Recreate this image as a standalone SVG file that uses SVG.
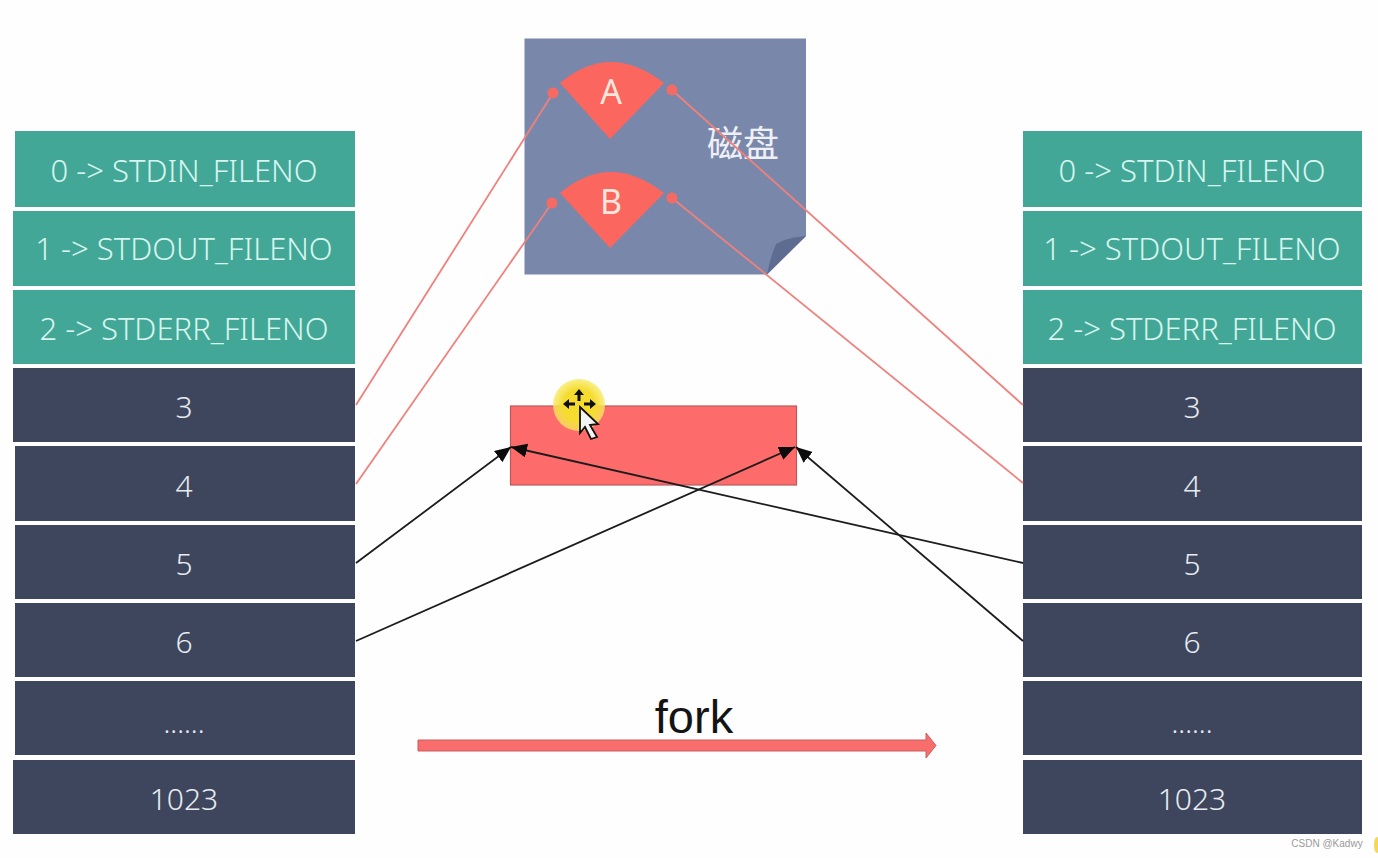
<svg xmlns="http://www.w3.org/2000/svg" width="1378" height="858" viewBox="0 0 1378 858">
<style>
text{font-family:"Noto Sans","Liberation Sans",sans-serif;text-anchor:middle}
.t{fill:#42a796}.d{fill:#3e465e}
.l{fill:#d6f5ee;font-size:31px;font-weight:300}
.n{fill:#e8ebf0;font-size:30px;font-weight:300}
.p{stroke:#f0807c;stroke-width:1.8;fill:none;marker-end:url(#dot)}
.b{stroke:#1c1c1c;stroke-width:1.8;fill:none;marker-end:url(#arr)}
.f{fill:#fb665f}
</style>
<defs>
<marker id="dot" markerUnits="userSpaceOnUse" markerWidth="16" markerHeight="16" refX="8" refY="8" orient="auto"><circle cx="8" cy="8" r="5.500" fill="#f66a64"/></marker>
<marker id="arr" markerUnits="userSpaceOnUse" markerWidth="18" markerHeight="16" refX="16" refY="7" orient="auto"><path d="M0 0L16 7L0 14Z" fill="#0c0c0c"/></marker>
<radialGradient id="glow"><stop offset="0.6" stop-color="#f5dc2e"/><stop offset="1" stop-color="#f8ea60" stop-opacity="0.75"/></radialGradient>
</defs>
<rect width="1378" height="858" fill="#fefefe"/>

<g id="disk">
<path d="M524.500 38.500H806V236L767 274.500H524.500Z" fill="#7988aa"/>
<path d="M806 236Q785 238 776 244Q770 258 767 274.500Z" fill="#5d6c90"/>
<path class="f" d="M560 83Q610 41 664 83L610 139Z"/>
<path class="f" d="M560 193Q610 151 664 193L610 248Z"/>
<text x="611" y="104" font-size="34" fill="#f6e6dc">A</text>
<text x="611" y="214" font-size="34" fill="#f6e6dc">B</text>
<text x="743" y="157" font-size="36" fill="#eef0f6" style="font-family:'Noto Sans CJK SC','Noto Sans',sans-serif;font-weight:400">磁盘</text>
</g>

<g id="left-table">
<g id="l0"><rect class="t" x="15" y="131" width="340" height="76"/><text class="l" x="184" y="182">0 -&gt; STDIN_FILENO</text></g>
<g id="l1"><rect class="t" x="13" y="211" width="342" height="75"/><text class="l" x="184" y="260">1 -&gt; STDOUT_FILENO</text></g>
<g id="l2"><rect class="t" x="13" y="290" width="342" height="74"/><text class="l" x="184" y="340">2 -&gt; STDERR_FILENO</text></g>
<g id="l3"><rect class="d" x="13" y="368" width="342" height="74"/><text class="n" x="184" y="418">3</text></g>
<g id="l4"><rect class="d" x="15" y="446" width="340" height="75"/><text class="n" x="184" y="497">4</text></g>
<g id="l5"><rect class="d" x="15" y="525" width="340" height="74"/><text class="n" x="184" y="575">5</text></g>
<g id="l6"><rect class="d" x="15" y="603" width="340" height="74"/><text class="n" x="184" y="653">6</text></g>
<g id="l7"><rect class="d" x="15" y="681" width="340" height="74"/><text class="n" x="184" y="733" style="font-size:28px">......</text></g>
<g id="l8"><rect class="d" x="13" y="760" width="342" height="74"/><text class="n" x="184" y="810">1023</text></g>
</g>

<g id="right-table">
<g id="r0"><rect class="t" x="1023" y="131" width="339" height="76"/><text class="l" x="1192" y="182">0 -&gt; STDIN_FILENO</text></g>
<g id="r1"><rect class="t" x="1023" y="211" width="339" height="75"/><text class="l" x="1192" y="260">1 -&gt; STDOUT_FILENO</text></g>
<g id="r2"><rect class="t" x="1023" y="290" width="339" height="74"/><text class="l" x="1192" y="340">2 -&gt; STDERR_FILENO</text></g>
<g id="r3"><rect class="d" x="1023" y="368" width="339" height="74"/><text class="n" x="1192" y="418">3</text></g>
<g id="r4"><rect class="d" x="1023" y="446" width="339" height="75"/><text class="n" x="1192" y="497">4</text></g>
<g id="r5"><rect class="d" x="1023" y="525" width="339" height="74"/><text class="n" x="1192" y="575">5</text></g>
<g id="r6"><rect class="d" x="1023" y="603" width="339" height="74"/><text class="n" x="1192" y="653">6</text></g>
<g id="r7"><rect class="d" x="1023" y="681" width="339" height="74"/><text class="n" x="1192" y="733" style="font-size:28px">......</text></g>
<g id="r8"><rect class="d" x="1023" y="760" width="339" height="74"/><text class="n" x="1192" y="810">1023</text></g>
</g>

<g id="file">
<rect x="510.500" y="406" width="286" height="79" fill="#fd6c6a" stroke="#b85a5c" stroke-width="1.200"/>
</g>

<g id="cursor">
<circle cx="579" cy="405" r="26" fill="url(#glow)"/>
<path d="M579 389l5 6h-3.500v6h-3v-6h-3.500ZM563 404l6-5v3.500h6v3h-6v3.500ZM596 404l-6-5v3.500h-6v3h6v3.500Z" fill="#111"/>
<path d="M580 407L598 424 590 425 597 437 591 439 585 427 580 433Z" fill="#f4f4f4" stroke="#111" stroke-width="1.800"/>
</g>

<g id="connectors">
<path class="p" d="M356 405L553 93"/>
<path class="p" d="M356 484L552 203"/>
<path class="p" d="M1023 405L672 90"/>
<path class="p" d="M1023 483L672 198"/>
<path class="b" d="M356 563L511 447"/>
<path class="b" d="M356 641L795 447"/>
<path class="b" d="M1023 563L511 447"/>
<path class="b" d="M1023 641L796 447"/>
</g>

<g id="fork">
<path d="M418 740H926V733L936 745.500 926 758V751H418Z" fill="#f96d6c" stroke="#c8605e" stroke-width="1"/>
<text x="694" y="733" font-size="47" fill="#141414" style="font-family:'Liberation Sans',sans-serif">fork</text>
</g>

<text id="watermark" x="1327" y="847" font-size="10" fill="#9a9a9a" style="font-family:'Liberation Sans',sans-serif">CSDN @Kadwy</text>
<ellipse cx="1377" cy="845" rx="3" ry="8" fill="#f3d75a"/>
</svg>
